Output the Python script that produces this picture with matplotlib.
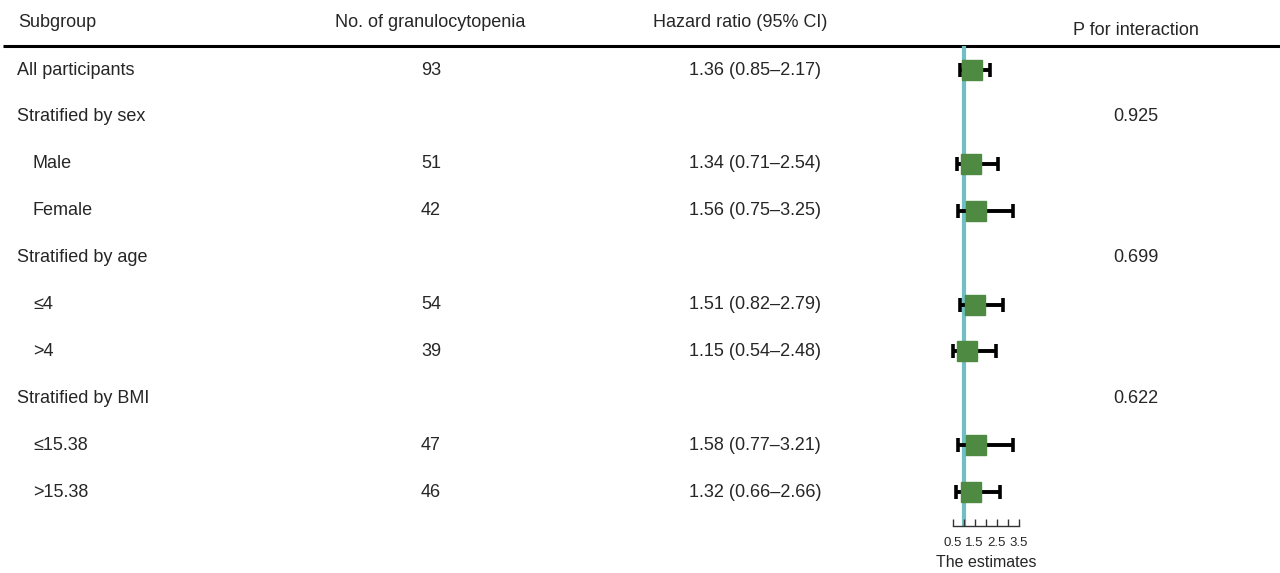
import matplotlib
matplotlib.use("Agg")
import matplotlib.pyplot as plt

plt.rcParams["font.family"] = ["Liberation Sans", "DejaVu Sans"]

# Table content
subgroups = ["All participants", "Stratified by sex", "Male", "Female",
             "Stratified by age", "\u22644", ">4",
             "Stratified by BMI", "\u226415.38", ">15.38"]
is_header_row = [True, True, False, False, True, False, False, True, False, False]
n_events = ["93", "", "51", "42", "", "54", "39", "", "47", "46"]
hr = [1.36, None, 1.34, 1.56, None, 1.51, 1.15, None, 1.58, 1.32]
ci_low = [0.85, None, 0.71, 0.75, None, 0.82, 0.54, None, 0.77, 0.66]
ci_high = [2.17, None, 2.54, 3.25, None, 2.79, 2.48, None, 3.21, 2.66]
p_interaction = ["", "0.925", "", "", "0.699", "", "", "0.622", "", ""]

col_headers = ["Subgroup", "No. of granulocytopenia", "Hazard ratio (95% CI)", "P for interaction"]
x_ticks = [0.5, 1.0, 1.5, 2.0, 2.5, 3.0, 3.5]
x_ticklabels = ["0.5", "", "1.5", "", "2.5", "", "3.5"]
x_label = "The estimates"
ref_value = 1.0

TEXT = "#262626"
GREEN = "#4E8A42"
TEAL = "#72BEC5"
FS = 13

W, H = 1280, 573
fig = plt.figure(figsize=(W / 100, H / 100), dpi=100)

# Row geometry (rows in index units)
row_top_px, row_step_px = 70.0, 46.9
def px_to_row(py):
    return (py - row_top_px) / row_step_px

# Table axes covering the whole figure
tab = fig.add_axes([0, 0, 1, 1])
tab.set_xlim(0, W)
tab.set_ylim(px_to_row(H), px_to_row(0))
tab.axis("off")

# Column headers
tab.text(18, px_to_row(22), col_headers[0], fontsize=FS, color=TEXT, va="center", ha="left")
tab.text(430, px_to_row(22), col_headers[1], fontsize=FS, color=TEXT, va="center", ha="center")
tab.text(740, px_to_row(22), col_headers[2], fontsize=FS, color=TEXT, va="center", ha="center")
tab.text(1136, px_to_row(30), col_headers[3], fontsize=FS, color=TEXT, va="center", ha="center")
tab.plot([3, W], [px_to_row(46)] * 2, color="black", lw=2.2, solid_capstyle="butt")

for i, name in enumerate(subgroups):
    x0 = 17 if is_header_row[i] else 33
    tab.text(x0, i, name, fontsize=FS, color=TEXT, va="center", ha="left")
    if n_events[i]:
        tab.text(431, i, n_events[i], fontsize=FS, color=TEXT, va="center", ha="center")
    if hr[i] is not None:
        label = f"{hr[i]:.2f} ({ci_low[i]:.2f}\u2013{ci_high[i]:.2f})"
        tab.text(755, i, label, fontsize=FS, color=TEXT, va="center", ha="center")
    if p_interaction[i]:
        tab.text(1136, i, p_interaction[i], fontsize=FS, color=TEXT, va="center", ha="center")

# Forest plot axes
ax_left, ax_right = 952.5, 1019.0
ax_top, ax_bottom = 46.0, 526.0
fx = fig.add_axes([ax_left / W, (H - ax_bottom) / H,
                   (ax_right - ax_left) / W, (ax_bottom - ax_top) / H])
fx.set_xlim(x_ticks[0], x_ticks[-1])
fx.set_ylim(px_to_row(ax_bottom), px_to_row(ax_top))
fx.patch.set_alpha(0)
for side in ("top", "left", "right"):
    fx.spines[side].set_visible(False)
fx.spines["bottom"].set_linewidth(1.0)
fx.spines["bottom"].set_color("#333333")
fx.set_yticks([])
fx.set_xticks(x_ticks)
fx.set_xticklabels(x_ticklabels)
fx.tick_params(axis="x", direction="in", length=5, width=1.0, colors="#333333",
               labelsize=9.5, pad=8, labelcolor=TEXT)
fx.set_xlabel(x_label, fontsize=11.5, color=TEXT, labelpad=4)

fx.axvline(ref_value, color=TEAL, lw=3.0, zorder=1)

for i in range(len(subgroups)):
    if hr[i] is None:
        continue
    fx.errorbar(hr[i], i, xerr=[[hr[i] - ci_low[i]], [ci_high[i] - hr[i]]],
                fmt="none", ecolor="black", elinewidth=2.8, capsize=5, capthick=2.6,
                zorder=2, clip_on=False)
    fx.plot(hr[i], i, marker="s", markersize=14.8, color=GREEN, mec=GREEN,
            linestyle="none", zorder=3, clip_on=False)

fig.savefig("out.png", dpi=100)
